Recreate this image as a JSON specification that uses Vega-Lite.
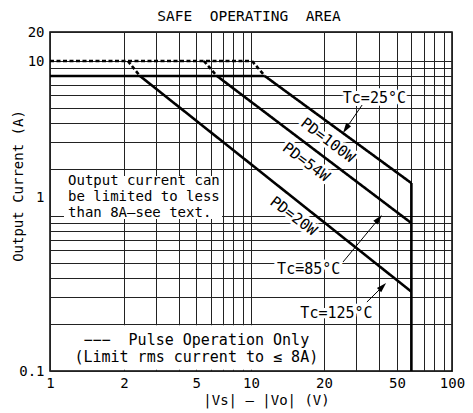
{
  "$schema": "https://vega.github.io/schema/vega-lite/v6.json",
  "width": 402,
  "height": 339,
  "autosize": {"type": "none"},
  "padding": {"left": 50, "top": 32, "right": 21, "bottom": 42},
  "background": "white",
  "config": {
    "font": "DejaVu Sans Mono",
    "view": {"stroke": "#000", "strokeWidth": 1.5}
  },
  "title": {
    "text": "SAFE\u00a0\u00a0OPERATING\u00a0\u00a0AREA",
    "fontSize": 14.5,
    "fontWeight": "normal",
    "color": "#000",
    "anchor": "middle",
    "offset": 1,
    "dx": -2
  },
  "datasets": {
    "lines": [
      {"seg": "pulse10", "style": "dashed", "ord": 1, "v": 1, "i": 10},
      {"seg": "pulse10", "style": "dashed", "ord": 2, "v": 10.1, "i": 10},
      {"seg": "d20", "style": "dashed", "ord": 1, "v": 2.1, "i": 10},
      {"seg": "d20", "style": "dashed", "ord": 2, "v": 2.45, "i": 8},
      {"seg": "d54", "style": "dashed", "ord": 1, "v": 5.5, "i": 10},
      {"seg": "d54", "style": "dashed", "ord": 2, "v": 6.5, "i": 8},
      {"seg": "d100", "style": "dashed", "ord": 1, "v": 10.1, "i": 10},
      {"seg": "d100", "style": "dashed", "ord": 2, "v": 11.4, "i": 8},
      {"seg": "lim8", "style": "solid", "ord": 1, "v": 1, "i": 8},
      {"seg": "lim8", "style": "solid", "ord": 2, "v": 11.4, "i": 8},
      {"seg": "p20", "style": "solid", "ord": 1, "v": 2.45, "i": 8},
      {"seg": "p20", "style": "solid", "ord": 2, "v": 60, "i": 0.325},
      {"seg": "p54", "style": "solid", "ord": 1, "v": 6.5, "i": 8},
      {"seg": "p54", "style": "solid", "ord": 2, "v": 60, "i": 0.9},
      {"seg": "p100", "style": "solid", "ord": 1, "v": 11.4, "i": 8},
      {"seg": "p100", "style": "solid", "ord": 2, "v": 60, "i": 1.63},
      {"seg": "vmax", "style": "solid", "ord": 1, "v": 60, "i": 1.63},
      {"seg": "vmax", "style": "solid", "ord": 2, "v": 60, "i": 0.1}
    ],
    "boxes": [
      {"v": 1.14, "v2": 6.93, "i": 0.956, "i2": 1.81},
      {"v": 1.012, "v2": 19.8, "i": 0.102, "i2": 0.197}
    ],
    "labels": [
      {"t": "Tc=25°C", "v": 37.7, "i": 5.77, "a": 0},
      {"t": "Tc=85°C", "v": 17.3, "i": 0.455, "a": 0},
      {"t": "Tc=125°C", "v": 23.4, "i": 0.2366, "a": 0},
      {"t": "PD=100W", "v": 21.0, "i": 3.09, "a": 37},
      {"t": "PD=54W", "v": 16.9, "i": 2.23, "a": 37},
      {"t": "PD=20W", "v": 15.0, "i": 1.0, "a": 37},
      {"t": "−−−\u00a0\u00a0Pulse Operation Only", "v": 5.0, "i": 0.1596, "a": 0},
      {"t": "(Limit rms current to ≤ 8A)", "v": 5.0, "i": 0.123, "a": 0}
    ],
    "notes": [
      {"t": "Output current can", "v": 1.184, "i": 1.68},
      {"t": "be limited to less", "v": 1.184, "i": 1.33},
      {"t": "than 8A—see text.", "v": 1.184, "i": 1.04}
    ],
    "arrows": [
      {"v": 32.3, "i": 5.20, "v2": 26.5, "i2": 3.70},
      {"v": 25.4, "i": 0.505, "v2": 39.5, "i2": 0.948},
      {"v": 34.3, "i": 0.2786, "v2": 41.4, "i2": 0.347}
    ],
    "heads": [
      {"v": 26.5, "i": 3.70, "a": 214},
      {"v": 39.5, "i": 0.948, "a": 39.7},
      {"v": 41.4, "i": 0.347, "a": 45}
    ]
  },
  "encoding": {
    "x": {
      "field": "v",
      "type": "quantitative",
      "scale": {"type": "log", "domain": [1, 2, 10, 20, 100], "range": [0, 74, 201, 274, 402], "nice": false},
      "axis": {
        "title": "|Vs| – |Vo| (V)",
        "values": [1, 2, 3, 4, 5, 6, 7, 8, 9, 10, 20, 30, 40, 50, 60, 70, 80, 90, 100],
        "labelExpr": "indexof([1, 2, 5, 10, 20, 50, 100], datum.value) >= 0 ? format(datum.value, 'd') : ''",
        "labelOverlap": false,
        "labelFlush": false,
        "labelFontSize": 14,
        "labelColor": "#000",
        "labelPadding": 5,
        "ticks": false,
        "domain": false,
        "grid": true,
        "gridColor": "#222",
        "gridWidth": 1,
        "gridOpacity": 1,
        "titleFontSize": 14,
        "titleFontWeight": "normal",
        "titleColor": "#000",
        "titleX": 216,
        "titleY": 29,
        "titleBaseline": "middle"
      }
    },
    "y": {
      "field": "i",
      "type": "quantitative",
      "scale": {"type": "log", "domain": [0.1, 10, 20], "range": [339, 29, 0], "nice": false},
      "axis": {
        "title": "Output Current (A)",
        "values": [0.1, 0.2, 0.3, 0.4, 0.5, 0.6, 0.7, 0.8, 0.9, 1, 2, 3, 4, 5, 6, 7, 8, 9, 10, 20],
        "labelExpr": "indexof([0.1, 1, 10, 20], datum.value) >= 0 ? format(datum.value, '~g') : ''",
        "labelOverlap": false,
        "labelFlush": false,
        "labelFontSize": 14,
        "labelColor": "#000",
        "labelPadding": 6,
        "labelOffset": {"condition": {"test": "datum.value === 1", "value": -19}, "value": 0},
        "ticks": false,
        "domain": false,
        "grid": true,
        "gridColor": "#222",
        "gridWidth": 1,
        "gridOpacity": 1,
        "titleFontSize": 14,
        "titleFontWeight": "normal",
        "titleColor": "#000",
        "titleX": -32,
        "titleY": 153.5,
        "titleBaseline": "middle"
      }
    }
  },
  "layer": [
    {
      "data": {"name": "boxes"},
      "mark": {"type": "rect", "fill": "white", "strokeWidth": 0},
      "encoding": {"x2": {"field": "v2"}, "y2": {"field": "i2"}}
    },
    {
      "data": {"name": "labels"},
      "mark": {"type": "text", "fontSize": 15, "align": "center", "baseline": "middle", "fill": "white", "stroke": "white", "strokeWidth": 6, "strokeJoin": "round"},
      "encoding": {
        "text": {"field": "t"},
        "angle": {"field": "a", "type": "quantitative", "scale": null}
      }
    },
    {
      "data": {"name": "lines"},
      "mark": {"type": "line", "color": "#000", "strokeWidth": 2.6, "strokeCap": "butt"},
      "encoding": {
        "detail": {"field": "seg"},
        "order": {"field": "ord"},
        "strokeDash": {"field": "style", "type": "nominal", "scale": {"domain": ["solid", "dashed"], "range": [[1, 0], [4, 2.5]]}, "legend": null}
      }
    },
    {
      "data": {"name": "labels"},
      "mark": {"type": "text", "fontSize": 15, "align": "center", "baseline": "middle", "color": "#000"},
      "encoding": {
        "text": {"field": "t"},
        "angle": {"field": "a", "type": "quantitative", "scale": null}
      }
    },
    {
      "data": {"name": "notes"},
      "mark": {"type": "text", "fontSize": 14, "align": "left", "baseline": "middle", "color": "#000"},
      "encoding": {"text": {"field": "t"}}
    },
    {
      "data": {"name": "arrows"},
      "mark": {"type": "rule", "color": "#000", "strokeWidth": 1},
      "encoding": {"x2": {"field": "v2"}, "y2": {"field": "i2"}}
    },
    {
      "data": {"name": "heads"},
      "mark": {"type": "point", "shape": "M0,-1L0.5,0.66L-0.5,0.66Z", "filled": true, "color": "#000", "opacity": 1, "size": 144},
      "encoding": {"angle": {"field": "a", "type": "quantitative", "scale": null}}
    }
  ]
}
